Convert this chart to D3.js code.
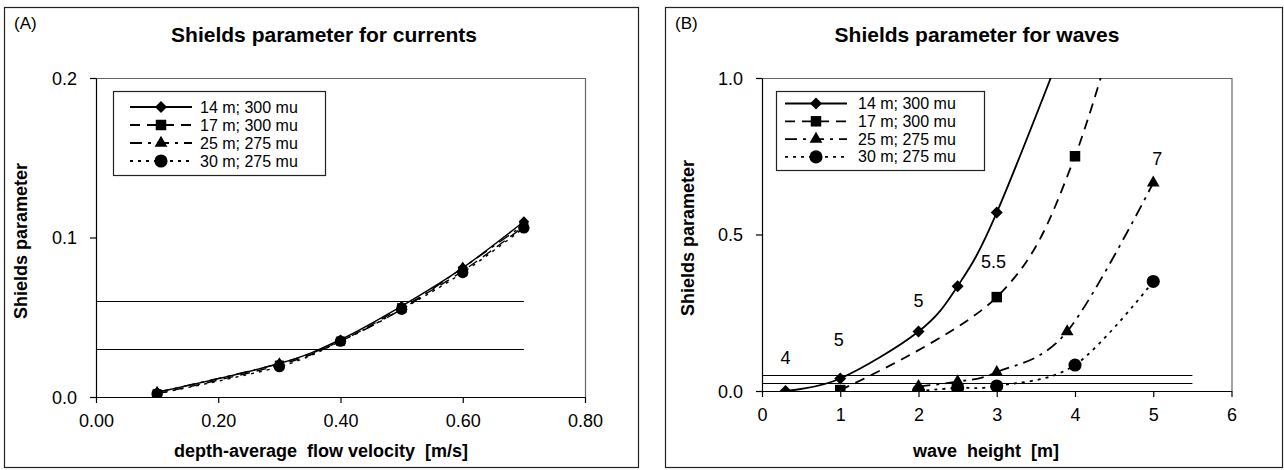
<!DOCTYPE html>
<html>
<head>
<meta charset="utf-8">
<script src="https://cdn.jsdelivr.net/npm/d3@7"></script>
<style>
  body { margin: 0; background: #fff; }
  svg { font-family: "Liberation Sans", Arial, Helvetica, sans-serif; }
  .bold { font-weight: bold; }
</style>
</head>
<body>
<svg id="chart" width="1284" height="470"></svg>
<script>
// ---- data ----
const seriesNames = ["14 m; 300 mu", "17 m; 300 mu", "25 m; 275 mu", "30 m; 275 mu"];

// (A) currents
const velocity = [0.1, 0.3, 0.4, 0.5, 0.6, 0.7];
const currents14 = [0.003, 0.021, 0.036, 0.057, 0.081, 0.110];
const currents17 = [0.002, 0.020, 0.035, 0.056, 0.079, 0.107];
const currents25 = [0.003, 0.021, 0.035, 0.055, 0.081, 0.108];
const currents30 = [0.002, 0.019, 0.035, 0.055, 0.078, 0.106];
const currentLimits = [0.06, 0.03];

// (B) waves
const waveH14 = [0.3, 1, 2, 2.5, 3, 4];
const waves14 = [0.0, 0.04, 0.19, 0.335, 0.57, 1.2];
const waveH17 = [1, 3, 4, 5];
const waves17 = [0.003, 0.30, 0.75, 1.6];
const waveH25 = [2, 2.5, 3, 3.9, 5];
const waves25 = [0.015, 0.03, 0.06, 0.19, 0.665];
const waveH30 = [2, 2.5, 3, 4, 5];
const waves30 = [0.0, 0.01, 0.016, 0.083, 0.35];
const waveLimits = [0.05, 0.025];
const periodLabels = ["4", "5", "5", "5.5", "7"];
const periodX = [0.3, 0.98, 2.0, 2.96, 5.05];
const periodY = [0.086, 0.144, 0.268, 0.393, 0.722];

// ---- styles per series ----
const dashes = [null, "10,7", "12,6,3,6", "3,5"];
const symbols = [
  { type: d3.symbolSquare, size: 72, rotate: 45 },
  { type: d3.symbolSquare, size: 110, rotate: 0 },
  { type: d3.symbolTriangle, size: 70, rotate: 0 },
  { type: d3.symbolCircle, size: 135, rotate: 0 }
];

const svg = d3.select("#chart");

function zip(xs, ys) { return xs.map((x, i) => ({ x: x, y: ys[i] })); }

function drawPanel(p) {
  const g = svg.append("g");

  // outer frame
  g.append("rect")
    .attr("x", p.frame[0] + 0.5).attr("y", p.frame[1] + 0.5)
    .attr("width", p.frame[2]).attr("height", p.frame[3])
    .attr("fill", "none").attr("stroke", "#222").attr("stroke-width", 1.2);

  g.append("text").attr("x", p.frame[0] + 10).attr("y", 29)
    .attr("font-size", 17).text(p.tag);

  g.append("text").attr("class", "bold")
    .attr("x", p.titleX).attr("y", 42)
    .attr("text-anchor", "middle").attr("font-size", 21)
    .text(p.title);

  const x = d3.scaleLinear().domain(p.xDomain).range(p.xRange);
  const y = d3.scaleLinear().domain(p.yDomain).range(p.yRange);

  // plot area border (top / right)
  g.append("path")
    .attr("d", `M${p.xRange[0]},${p.yRange[1] + 0.5}H${p.xRange[1] + 0.5}V${p.yRange[0]}`)
    .attr("fill", "none").attr("stroke", "#666").attr("stroke-width", 1.2);

  const xAxis = g.append("g")
    .attr("transform", `translate(0,${p.yRange[0]})`)
    .call(d3.axisBottom(x).tickValues(p.xTicks).tickFormat(d3.format(p.xFmt))
      .tickSize(6).tickSizeOuter(0).tickPadding(11));
  const yAxis = g.append("g")
    .attr("transform", `translate(${p.xRange[0]},0)`)
    .call(d3.axisLeft(y).tickValues(p.yTicks).tickFormat(d3.format(p.yFmt))
      .tickSize(6).tickSizeOuter(0).tickPadding(13));
  [xAxis, yAxis].forEach(a => {
    a.selectAll("path, line").attr("stroke", "#000").attr("stroke-width", 1.2);
    a.selectAll("text").attr("font-size", 18).attr("fill", "#000")
      .attr("font-family", "Liberation Sans, Arial, sans-serif");
  });
  yAxis.selectAll("text").attr("dy", "0.34em");

  g.append("text").attr("class", "bold")
    .attr("x", p.xLabelX).attr("y", 457)
    .attr("text-anchor", "middle").attr("font-size", 18)
    .style("white-space", "pre")
    .text(p.xLabel);

  g.append("text").attr("class", "bold")
    .attr("transform", `translate(${p.yLabelX},${p.yLabelY}) rotate(-90)`)
    .attr("text-anchor", "middle").attr("font-size", 18)
    .text("Shields parameter");

  // horizontal threshold lines
  g.selectAll(".limit").data(p.limits).enter().append("line")
    .attr("x1", x(0)).attr("x2", x(p.limitEnd))
    .attr("y1", d => Math.round(y(d)) + 0.5).attr("y2", d => Math.round(y(d)) + 0.5)
    .attr("stroke", "#000").attr("stroke-width", 1.2);

  // clip to plot area
  const clipId = "clip" + p.tag.replace(/\W/g, "");
  g.append("clipPath").attr("id", clipId).append("rect")
    .attr("x", p.xRange[0]).attr("y", p.yRange[1])
    .attr("width", p.xRange[1] - p.xRange[0]).attr("height", p.yRange[0] - p.yRange[1]);

  const line = d3.line().x(d => x(d.x)).y(d => y(d.y)).curve(d3.curveCatmullRom.alpha(0));

  const plot = g.append("g").attr("clip-path", `url(#${clipId})`);
  p.series.forEach((s, i) => {
    plot.append("path").datum(s)
      .attr("d", line)
      .attr("fill", "none").attr("stroke", "#000").attr("stroke-width", p.lineWidth)
      .attr("stroke-dasharray", dashes[i]);
  });
  p.series.forEach((s, i) => {
    const sym = symbols[i];
    plot.selectAll(null).data(s.filter(d => d.y <= p.yDomain[1])).enter().append("path")
      .attr("transform", d => `translate(${x(d.x)},${y(d.y)}) rotate(${sym.rotate})`)
      .attr("d", d3.symbol().type(sym.type).size(sym.size * p.markerScale))
      .attr("fill", "#000");
  });

  // annotations
  if (p.notes) {
    g.selectAll(".note").data(p.notes).enter().append("text")
      .attr("x", d => x(d.x)).attr("y", d => y(d.y))
      .attr("text-anchor", "middle").attr("font-size", 18)
      .text(d => d.t);
  }

  // legend
  const L = p.legend;
  g.append("rect")
    .attr("x", L.x + 0.5).attr("y", L.y + 0.5).attr("width", L.w).attr("height", L.h)
    .attr("fill", "#fff").attr("stroke", "#222").attr("stroke-width", 1.2);
  seriesNames.forEach((name, i) => {
    const ly = L.y + L.first + i * L.step;
    g.append("line")
      .attr("x1", L.x + L.lineStart).attr("x2", L.x + L.lineEnd)
      .attr("y1", ly).attr("y2", ly)
      .attr("stroke", "#000").attr("stroke-width", 1.8)
      .attr("stroke-dasharray", dashes[i]);
    const sym = symbols[i];
    g.append("path")
      .attr("transform", `translate(${L.x + (L.lineStart + L.lineEnd) / 2},${ly}) rotate(${sym.rotate})`)
      .attr("d", d3.symbol().type(sym.type).size(sym.size))
      .attr("fill", "#000");
    g.append("text")
      .attr("x", L.x + L.textX).attr("y", ly + 5.5)
      .attr("font-size", 16).text(name);
  });
}

drawPanel({
  tag: "(A)",
  frame: [4, 7, 634, 460],
  title: "Shields parameter for currents",
  titleX: 324,
  xDomain: [0, 0.8], xRange: [96, 585],
  yDomain: [0, 0.2], yRange: [397, 78],
  xTicks: [0, 0.2, 0.4, 0.6, 0.8], xFmt: ".2f",
  yTicks: [0, 0.1, 0.2], yFmt: ".1f",
  xLabel: "depth-average  flow velocity  [m/s]", xLabelX: 321,
  yLabelX: 27, yLabelY: 241,
  limits: currentLimits, limitEnd: 0.7,
  series: [zip(velocity, currents14), zip(velocity, currents17),
           zip(velocity, currents25), zip(velocity, currents30)],
  markerScale: 0.75, lineWidth: 1.4,
  legend: { x: 113, y: 91, w: 212, h: 84, first: 16, step: 18,
            lineStart: 17, lineEnd: 79, textX: 87 }
});

drawPanel({
  tag: "(B)",
  frame: [665, 7, 617, 460],
  title: "Shields parameter for waves",
  titleX: 977,
  xDomain: [0, 6], xRange: [762, 1231.5],
  yDomain: [0, 1], yRange: [391, 78],
  xTicks: [0, 1, 2, 3, 4, 5, 6], xFmt: "d",
  yTicks: [0, 0.5, 1], yFmt: ".1f",
  xLabel: "wave  height  [m]", xLabelX: 986,
  yLabelX: 694, yLabelY: 238,
  limits: waveLimits, limitEnd: 5.5,
  series: [zip(waveH14, waves14), zip(waveH17, waves17),
           zip(waveH25, waves25), zip(waveH30, waves30)],
  markerScale: 1, lineWidth: 1.8,
  notes: periodLabels.map((t, i) => ({ t: t, x: periodX[i], y: periodY[i] })),
  legend: { x: 776, y: 91, w: 208, h: 79, first: 12.5, step: 17.8,
            lineStart: 9, lineEnd: 71, textX: 82 }
});
</script>
</body>
</html>
